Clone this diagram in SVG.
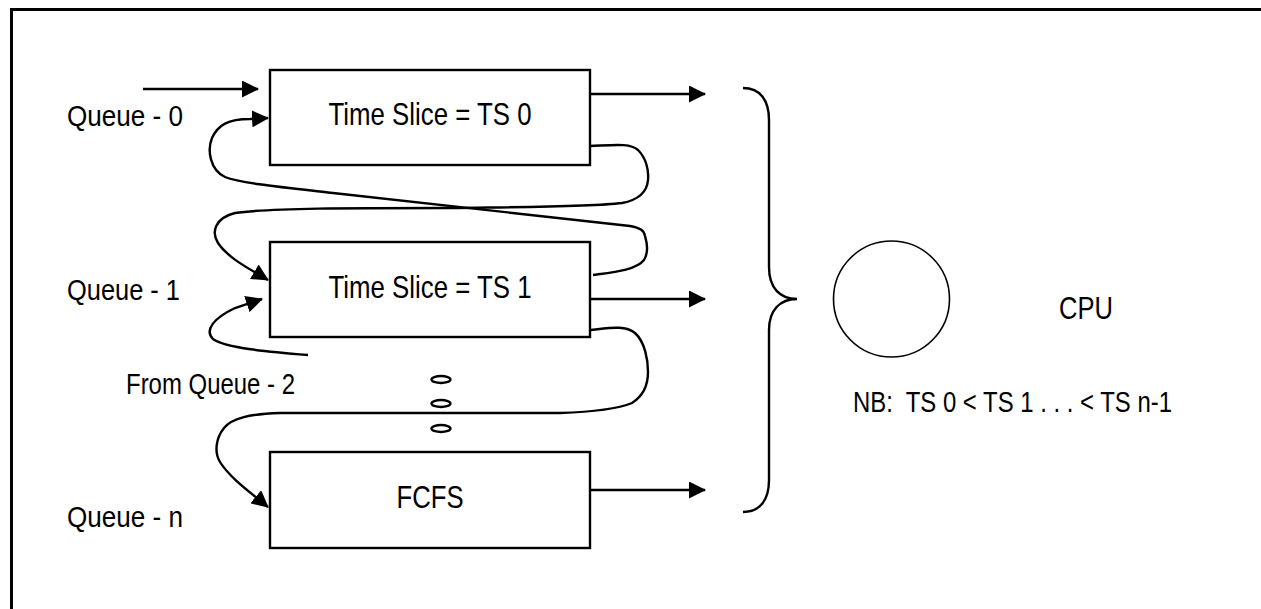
<svg xmlns="http://www.w3.org/2000/svg" width="1261" height="609" viewBox="0 0 1261 609">
<style>
.box{fill:#fff;stroke:#000;stroke-width:2.4}
.ln{fill:none;stroke:#000;stroke-width:2.4}
.t{font-family:"Liberation Sans Narrow","Liberation Sans",Arial,sans-serif;fill:#000;white-space:pre}
.big{font-size:32px}
.mid{font-size:29px}
</style>
<defs>
<marker id="ah" markerUnits="userSpaceOnUse" markerWidth="17" markerHeight="17" viewBox="0 0 17 17" refX="16" refY="8.5" orient="auto">
<path d="M0,0 L17,8.5 L0,17 z" fill="#000"/>
</marker>
</defs>
<rect width="1261" height="609" fill="#fff"/>
<rect x="11.5" y="9.5" width="1270" height="620" fill="none" stroke="#000" stroke-width="3"/>

<g id="q0">
<rect class="box" x="270" y="70" width="320" height="95"/>
<text class="t big" x="430" y="125" text-anchor="middle" textLength="203" lengthAdjust="spacingAndGlyphs">Time Slice = TS 0</text>
</g>
<g id="q1">
<rect class="box" x="270" y="242" width="320" height="95"/>
<text class="t big" x="430" y="298" text-anchor="middle" textLength="203" lengthAdjust="spacingAndGlyphs">Time Slice = TS 1</text>
</g>
<g id="qn">
<rect class="box" x="270" y="452" width="320" height="96"/>
<text class="t big" x="430" y="508" text-anchor="middle" textLength="67" lengthAdjust="spacingAndGlyphs">FCFS</text>
</g>
<g id="labels">
<text class="t mid" x="67" y="126" textLength="116" lengthAdjust="spacingAndGlyphs">Queue - 0</text>
<text class="t mid" x="67" y="300" textLength="113" lengthAdjust="spacingAndGlyphs">Queue - 1</text>
<text class="t mid" x="67" y="527" textLength="116" lengthAdjust="spacingAndGlyphs">Queue - n</text>
<text class="t mid" x="126" y="394" textLength="169" lengthAdjust="spacingAndGlyphs">From Queue - 2</text>
</g>
<g id="dots">
<ellipse class="ln" cx="441" cy="379.5" rx="9.5" ry="3.5" stroke-width="1.8"/>
<ellipse class="ln" cx="441" cy="403.5" rx="9.5" ry="3.5" stroke-width="1.8"/>
<ellipse class="ln" cx="441" cy="428.5" rx="9.5" ry="3.5" stroke-width="1.8"/>
</g>
<g id="cpu">
<circle cx="891.5" cy="299" r="58" fill="none" stroke="#000" stroke-width="1.6"/>
<text class="t big" x="1059" y="319" textLength="54" lengthAdjust="spacingAndGlyphs">CPU</text>
</g>
<g id="note">
<text class="t mid" x="853" y="412" textLength="319" lengthAdjust="spacingAndGlyphs" xml:space="preserve">NB:  TS 0 &lt; TS 1 . . . &lt; TS n-1</text>
</g>
<g id="brace">
<path class="ln" d="M743,88 C760,88 769,100 769,120 L769,267 C769,288 780,299 797,299 C780,299 769,310 769,330 L769,480 C769,500 760,512 743,512"/>
</g>
<g id="connectors">
<path class="ln" d="M143,89 L258,89" marker-end="url(#ah)"/>
<path class="ln" d="M590,94 L705,94" marker-end="url(#ah)"/>
<path class="ln" d="M590,299 L705,299" marker-end="url(#ah)"/>
<path class="ln" d="M590,490 L705,490" marker-end="url(#ah)"/>
<path class="ln" d="M590,146 C615,145 630,143 638,150 C646,158 649,170 648,180 C647,192 638,200 622,203 C590,207 520,207 450,208 C350,208 270,208 235,213 C215,218 211,232 218,243 C228,258 248,268 268,280" marker-end="url(#ah)"/>
<path class="ln" d="M593,275 C615,272 636,270 644,260 C650,250 646,240 645,236 C644,230 640,228 630,226 L333,193 C280,187 240,183 225,177 C210,170 207,150 212,138 C218,125 228,119 250,119 L268,118" marker-end="url(#ah)"/>
<path class="ln" d="M308,355 C270,352 225,348 213,339 C204,330 214,318 235,308 L262,299" marker-end="url(#ah)"/>
<path class="ln" d="M590,330 C610,328 625,325 635,333 C645,342 648,360 648,372 C648,385 643,396 632,403 C615,410 590,412 560,413 L280,413 C250,414 232,418 224,428 C216,438 214,452 220,462 C230,478 250,492 268,507" marker-end="url(#ah)"/>
</g>
</svg>
